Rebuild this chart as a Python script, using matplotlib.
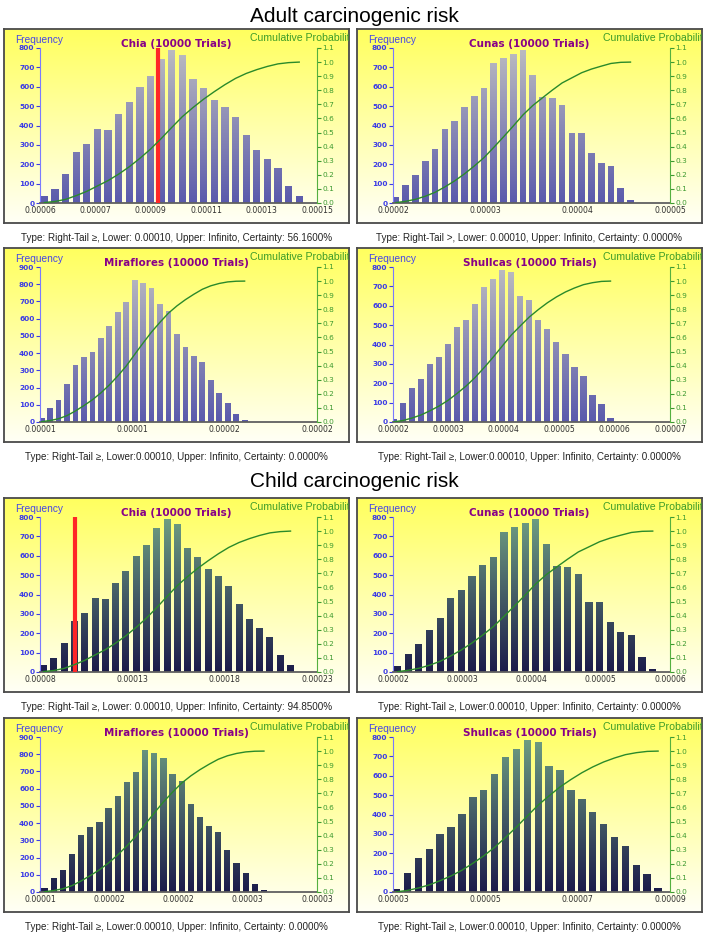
import numpy as np
import matplotlib
matplotlib.use('Agg')
import matplotlib.pyplot as plt
from matplotlib.colors import LinearSegmentedColormap
from matplotlib.path import Path

# frequency per bin (25 bins); adult and child use the same shape
chia_counts = [34, 74, 151, 265, 303, 382, 378, 461, 521, 597, 655, 743, 790,
               766, 642, 592, 530, 495, 444, 349, 272, 227, 181, 88, 38]
cunas_counts = [29, 91, 143, 217, 277, 382, 423, 495, 554, 595, 723, 747, 767,
                788, 662, 549, 540, 506, 361, 361, 258, 205, 193, 79, 17]
miraflores_counts = [23, 81, 126, 221, 329, 378, 408, 485, 559, 636, 697, 822, 809,
                     776, 688, 642, 509, 437, 383, 349, 245, 166, 108, 48, 10]
shullcas_counts = [14, 97, 174, 220, 299, 337, 403, 491, 525, 609, 697, 738, 783,
                   776, 650, 629, 525, 479, 412, 352, 282, 236, 140, 91, 22]

sites = ['Chia', 'Cunas', 'Miraflores', 'Shullcas']
counts = [chia_counts, cunas_counts, miraflores_counts, shullcas_counts]
freq_max = [800, 800, 900, 800]

adult_xlim = [(0.000055, 0.000145), (0.00002, 0.00005), (0.0000075, 0.0000225), (0.00002, 0.00007)]
adult_xlabels = [['0.00006', '0.00007', '0.00009', '0.00011', '0.00013', '0.00015'],
                 ['0.00002', '0.00003', '0.00004', '0.00005'],
                 ['0.00001', '0.00001', '0.00002', '0.00002'],
                 ['0.00002', '0.00003', '0.00004', '0.00005', '0.00006', '0.00007']]
adult_bin_lo = [0.0000547, 0.0000198, 0.00000736, 0.0000194]
adult_bin_w = [0.00000345, 0.000001058, 0.000000458, 0.000001627]
adult_marker = [0.0000932, None, None, None]
adult_captions = ['Type: Right-Tail ≥, Lower: 0.00010, Upper: Infinito, Certainty: 56.1600%',
                  'Type: Right-Tail >, Lower: 0.00010, Upper: Infinito, Certainty: 0.0000%',
                  'Type: Right-Tail ≥, Lower:0.00010, Upper: Infinito, Certainty: 0.0000%',
                  'Type: Right-Tail ≥, Lower:0.00010, Upper: Infinito, Certainty: 0.0000%']

child_xlim = [(0.00008, 0.00023), (0.00002, 0.00006), (0.0000125, 0.0000325), (0.00003, 0.00009)]
child_xlabels = [['0.00008', '0.00013', '0.00018', '0.00023'],
                 ['0.00002', '0.00003', '0.00004', '0.00005', '0.00006'],
                 ['0.00001', '0.00002', '0.00002', '0.00003', '0.00003'],
                 ['0.00003', '0.00005', '0.00007', '0.00009']]
child_bin_lo = [0.0000792, 0.0000199, 0.0000125, 0.0000296]
child_bin_w = [0.00000557, 0.000001535, 0.00000066, 0.00000236]
child_marker = [0.0000988, None, None, None]
child_captions = ['Type: Right-Tail ≥, Lower: 0.00010, Upper: Infinito, Certainty: 94.8500%',
                  'Type: Right-Tail ≥, Lower:0.00010, Upper: Infinito, Certainty: 0.0000%',
                  'Type: Right-Tail ≥, Lower:0.00010, Upper: Infinito, Certainty: 0.0000%',
                  'Type: Right-Tail ≥, Lower:0.00010, Upper: Infinito, Certainty: 0.0000%']

W, H = 708, 939
FW, FH = 345, 194
ARIAL = ['Liberation Sans', 'DejaVu Sans']

bg_cmap = LinearSegmentedColormap.from_list('bg', ['#ffff5e', '#fffff6'])
adult_cmap = LinearSegmentedColormap.from_list('adult', ['#5a5aac', '#bcbcc0'])
child_cmap = LinearSegmentedColormap.from_list('child', ['#1c1c4a', '#6e9e82'])

fig = plt.figure(figsize=(W / 100, H / 100), dpi=100)


def px_rect(x0, y0, w, h):
    return [x0 / W, 1 - (y0 + h) / H, w / W, h / H]


def draw_panel(fx, fy, site, cnt, fmax, xlim, xlabels, bin_lo, bin_w, marker, caption, cmap):
    # framed yellow background
    bg = fig.add_axes(px_rect(fx, fy, FW, FH))
    bg.imshow(np.linspace(0, 1, 256).reshape(-1, 1), cmap=bg_cmap, aspect='auto',
              extent=[0, 1, 0, 1])
    bg.set_xlim(0, 1)
    bg.set_ylim(0, 1)
    bg.set_xticks([])
    bg.set_yticks([])
    for s in bg.spines.values():
        s.set_color('#4a4a4a')
        s.set_linewidth(1.3)
    bg.text(11 / FW, 1 - 11 / FH, 'Frequency', color='#4646e6', fontsize=7.3,
            family=ARIAL, ha='left', va='center')
    bg.text(246 / FW, 1 - 9 / FH, 'Cumulative Probability', color='#3c9c28', fontsize=7.6,
            family=ARIAL, ha='left', va='center', clip_on=True)
    bg.text(0.5, 1 - 15 / FH, '%s (10000 Trials)' % site, color='#880088', fontsize=7.5,
            fontweight='bold', ha='center', va='center')

    ax = fig.add_axes(px_rect(fx + 36, fy + 19, 277, 155))
    ax.patch.set_visible(False)
    centers = bin_lo + bin_w * (np.arange(len(cnt)) + 0.5)
    bars = ax.bar(centers, cnt, width=bin_w * 0.68, color='none', edgecolor='none')
    clip = Path.make_compound_path(*[b.get_patch_transform().transform_path(b.get_path())
                                     for b in bars])
    im = ax.imshow(np.linspace(1, 0, 256).reshape(-1, 1), cmap=cmap, aspect='auto',
                   extent=[xlim[0] - bin_w, xlim[1], 0, fmax], zorder=2)
    im.set_clip_path(clip, ax.transData)
    if marker is not None:
        ax.axvline(marker, color='#ff2626', lw=3, zorder=3)
    ax.set_xlim(xlim)
    ax.set_ylim(0, fmax)

    ax.spines['top'].set_visible(False)
    ax.spines['right'].set_visible(False)
    ax.spines['left'].set_color('#7a7aff')
    ax.spines['bottom'].set_color('#606060')
    ax.spines['bottom'].set_linewidth(1.3)
    ax.set_yticks(range(0, fmax + 1, 100))
    ax.tick_params(axis='y', colors='#3c3ce6', labelsize=5.3, length=3, width=0.8, pad=1)
    for t in ax.get_yticklabels():
        t.set_fontweight('bold')
    ax.set_xticks(np.linspace(xlim[0], xlim[1], len(xlabels)))
    ax.set_xticklabels(xlabels)
    ax.tick_params(axis='x', colors='#303030', labelsize=5.6, length=0, pad=2)

    ax2 = ax.twinx()
    ax2.set_ylim(0, 1.1)
    cum = np.cumsum(cnt) / np.sum(cnt)
    ax2.plot(centers, cum, color='#2a8a2a', lw=1.0)
    ax2.set_yticks(np.arange(0, 12) / 10)
    ax2.set_yticklabels(['%.1f' % (v / 10) for v in range(12)])
    for s in ['top', 'left', 'bottom']:
        ax2.spines[s].set_visible(False)
    ax2.spines['right'].set_color('#55b040')
    ax2.tick_params(axis='y', colors='#3d9a30', labelsize=5.3, length=3, width=0.8, pad=1)

    fig.text((fx + FW / 2) / W, 1 - (fy + FH + 15) / H, caption, fontsize=7.1,
             family=ARIAL, color='#222222', ha='center', va='center')


col_x = [4, 357]
adult_rows = [29, 248]
child_rows = [498, 718]

fig.text(0.5, 1 - 16 / H, 'Adult carcinogenic risk', fontsize=15, family=ARIAL,
         ha='center', va='center')
fig.text(0.5, 1 - 482 / H, 'Child carcinogenic risk', fontsize=15, family=ARIAL,
         ha='center', va='center')

for i in range(4):
    fx = col_x[i % 2]
    draw_panel(fx, adult_rows[i // 2], sites[i], counts[i], freq_max[i], adult_xlim[i],
               adult_xlabels[i], adult_bin_lo[i], adult_bin_w[i], adult_marker[i],
               adult_captions[i], adult_cmap)
    draw_panel(fx, child_rows[i // 2], sites[i], counts[i], freq_max[i], child_xlim[i],
               child_xlabels[i], child_bin_lo[i], child_bin_w[i], child_marker[i],
               child_captions[i], child_cmap)

fig.savefig('out.png', dpi=100)
